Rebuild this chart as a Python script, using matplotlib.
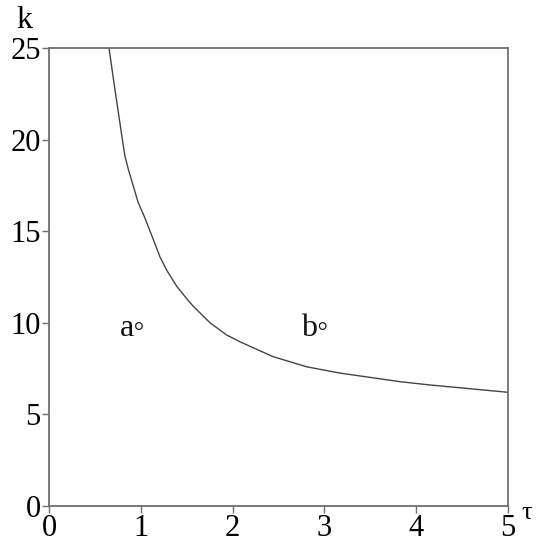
import matplotlib
matplotlib.use("Agg")
import matplotlib.pyplot as plt

# curve (tau, k)
tau = [0.654, 0.720, 0.800, 0.828, 0.864, 0.970, 1.039, 1.133, 1.209,
       1.285, 1.391, 1.503, 1.572, 1.754, 1.936, 2.081, 2.263, 2.440,
       2.810, 3.170, 3.824, 4.150, 5.000]
k = [25.0, 22.7, 20.0, 19.1, 18.4, 16.6, 15.8, 14.6, 13.6,
     12.85, 12.0, 11.3, 10.9, 10.0, 9.33, 8.96, 8.55, 8.15,
     7.59, 7.25, 6.78, 6.60, 6.20]

xticks = [0, 1, 2, 3, 4, 5]
yticks = [0, 5, 10, 15, 20, 25]

# region markers
point_labels = ["a\u25e6", "b\u25e6"]
point_x = [0.915, 2.90]
point_y = [9.7, 9.7]

plt.rcParams['font.family'] = ['Liberation Serif', 'DejaVu Serif']

fig = plt.figure(figsize=(5.4, 5.5), dpi=100)
ax = fig.add_axes([0.0907, 0.0805, 0.85, 0.8316])

ax.plot(tau, k, color='#444444', lw=1.0)

for lab, x, y in zip(point_labels, point_x, point_y):
    ax.text(x, y, lab, fontsize=23, ha='center', va='center', color='#111111')

ax.set_xlim(0, 5)
ax.set_ylim(0, 25)
ax.set_xticks(xticks)
ax.set_yticks(yticks)
ax.tick_params(labelsize=22, length=5, width=1.0, color='#707070', pad=1)

for s in ax.spines.values():
    s.set_color('#707070')
    s.set_linewidth(1.3)

fig.text(24 / 540, 1 - 28 / 550, "k", fontsize=23, ha='center', va='baseline')
fig.text(527 / 540, 1 - 513 / 550, "\u03c4", fontsize=19, ha='center', va='center')

fig.savefig("out.png", dpi=100)
